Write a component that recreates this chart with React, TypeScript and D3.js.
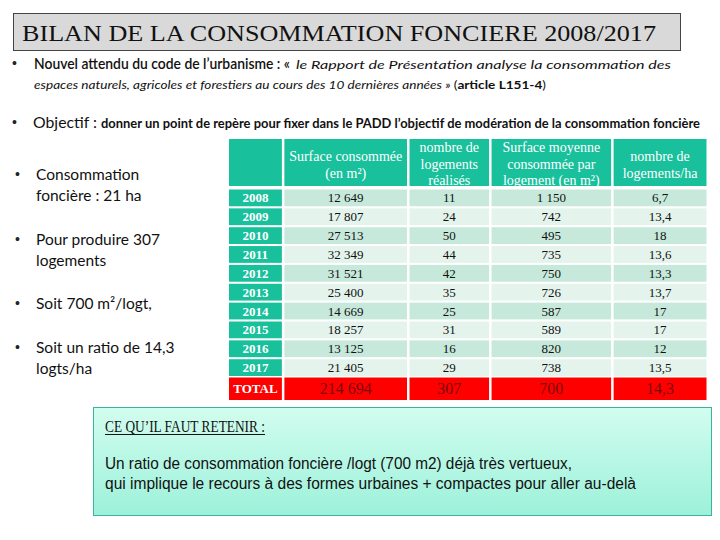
import React from "react";
import * as d3 from "d3";

const years = ["2008", "2009", "2010", "2011", "2012", "2013", "2014", "2015", "2016", "2017"];
const surface = ["12 649", "17 807", "27 513", "32 349", "31 521", "25 400", "14 669", "18 257", "13 125", "21 405"];
const logements = ["11", "24", "50", "44", "42", "35", "25", "31", "16", "29"];
const surfMoy = ["1 150", "742", "495", "735", "750", "726", "587", "589", "820", "738"];
const logHa = ["6,7", "13,4", "18", "13,6", "13,3", "13,7", "17", "17", "12", "13,5"];
const totals = ["214 694", "307", "700", "14,3"];
const headers: string[][] = [
  [],
  ["Surface consommée", "(en m²)"],
  ["nombre de", "logements", "réalisés"],
  ["Surface moyenne", "consommée par", "logement (en m²)"],
  ["nombre de", "logements/ha"],
];
const colWeights = [54, 122, 80, 119, 93];

const bullets = [
  ["Consommation", "foncière : 21 ha"],
  ["Pour produire 307", "logements"],
  ["Soit 700 m²/logt,"],
  ["Soit un ratio de 14,3", "logts/ha"],
];

export default function App() {
  const W = 720, H = 540;
  const tableX0 = 229, tableX1 = 709, gap = 2.5;
  const cum = [0];
  colWeights.forEach((w, i) => cum.push(cum[i] + w));
  const xs = d3.scaleLinear().domain([0, cum[cum.length - 1]]).range([tableX0, tableX1]);
  const cols = colWeights.map((_, i) => ({ x: xs(cum[i]), w: xs(cum[i + 1]) - xs(cum[i]) - gap }));

  const y = d3.scaleBand().domain(years).range([189.5, 376]).paddingInner(0.11);
  const totalY = 377.5, totalH = 22.5;

  const rowData = years.map((yr, i) => [yr, surface[i], logements[i], surfMoy[i], logHa[i]]);
  const serif = "'Liberation Serif', 'Times New Roman', serif";
  const sans = "Lato, 'Open Sans', sans-serif";
  const arial = "'Liberation Sans', Arial, sans-serif";

  const lineGap = 21, bulletGap = 43.5;
  const bulletStarts: number[] = [];
  bullets.forEach((b, i) => {
    if (i === 0) bulletStarts.push(180);
    else bulletStarts.push(bulletStarts[i - 1] + (bullets[i - 1].length - 1) * lineGap + bulletGap);
  });

  return (
    <div style={{ margin: -8 }}>
      <svg width={W} height={H} style={{ display: "block", background: "#fff" }}>
        <defs>
          <linearGradient id="retain" x1="0" y1="0" x2="0" y2="1">
            <stop offset="0%" stopColor="#d2fdef" />
            <stop offset="100%" stopColor="#9cf1da" />
          </linearGradient>
        </defs>
        {/* Title */}
        <rect x={13.5} y={13.5} width={667} height={37} fill="#d9d9d9" stroke="#444" strokeWidth={1} />
        <text x={22} y={41} fontFamily={serif} fontSize={23} fill="#111" textLength={634} lengthAdjust="spacingAndGlyphs">
          BILAN DE LA CONSOMMATION FONCIERE 2008/2017
        </text>

        {/* Bullet 1 */}
        <text x={12} y={68} fontFamily={arial} fontSize={14} fill="#222">•</text>
        <text x={34} y={69} fontFamily={sans} fontSize={15.5} fontWeight={600} fill="#111" textLength={256} lengthAdjust="spacingAndGlyphs">
          Nouvel attendu du code de l’urbanisme : «
        </text>
        <text x={296} y={69} fontFamily={sans} fontSize={12} fontStyle="italic" fill="#111" textLength={375} lengthAdjust="spacingAndGlyphs">
          le Rapport de Présentation analyse la consommation des
        </text>
        <text x={34} y={89} fontFamily={sans} fontSize={12} fill="#111" textLength={512} lengthAdjust="spacingAndGlyphs">
          <tspan fontStyle="italic">espaces naturels, agricoles et forestiers au cours des 10 dernières années » </tspan>
          <tspan>(</tspan>
          <tspan fontWeight={700}>article L151-4</tspan>
          <tspan>)</tspan>
        </text>

        {/* Objectif */}
        <text x={12} y={127} fontFamily={arial} fontSize={14} fill="#222">•</text>
        <text x={33} y={128} fontFamily={sans} fontSize={15.5} fill="#111" textLength={64} lengthAdjust="spacingAndGlyphs">
          Objectif :
        </text>
        <text x={101} y={128} fontFamily={sans} fontSize={12.5} fontWeight={700} fill="#111" textLength={599} lengthAdjust="spacingAndGlyphs">
          donner un point de repère pour fixer dans le PADD l’objectif de modération de la consommation foncière
        </text>

        {/* Left bullets */}
        {bullets.map((lines, i) => (
          <g key={i}>
            <text x={15} y={bulletStarts[i] - 1} fontFamily={arial} fontSize={14} fill="#222">•</text>
            {lines.map((l, j) => (
              <text key={j} x={36} y={bulletStarts[i] + j * lineGap} fontFamily={sans} fontSize={15.5} fill="#111">
                {l}
              </text>
            ))}
          </g>
        ))}

        {/* Table header */}
        {cols.map((c, i) => (
          <g key={"h" + i}>
            <rect x={c.x} y={139} width={c.w} height={47} fill="#19c09c" />
            <clipPath id={"hc" + i}>
              <rect x={c.x} y={139} width={c.w} height={47} />
            </clipPath>
            <g clipPath={`url(#hc${i})`}>
              {headers[i].map((t, j) => {
                const n = headers[i].length;
                const yy = n === 3 ? 152 + j * 16.5 : 161 + j * 16.5;
                return (
                  <text key={j} x={c.x + c.w / 2} y={yy} textAnchor="middle" fontFamily={serif} fontSize={14} fill="#fff">
                    {t}
                  </text>
                );
              })}
            </g>
          </g>
        ))}

        {/* Table rows */}
        {rowData.map((row, r) => {
          const yy = y(years[r])!;
          const h = y.bandwidth();
          const shade = r % 2 === 0 ? "#c7e9dc" : "#e4f4ed";
          return (
            <g key={"r" + r}>
              {cols.map((c, i) => (
                <g key={i}>
                  <rect x={c.x} y={yy} width={c.w} height={h} fill={i === 0 ? "#19c09c" : shade} />
                  <text
                    x={c.x + c.w / 2}
                    y={yy + h / 2 + 4.5}
                    textAnchor="middle"
                    fontFamily={serif}
                    fontSize={13}
                    fontWeight={i === 0 ? 700 : 400}
                    fill={i === 0 ? "#fff" : "#111"}
                  >
                    {row[i]}
                  </text>
                </g>
              ))}
            </g>
          );
        })}
        {/* Total row */}
        {cols.map((c, i) => (
          <g key={"t" + i}>
            <rect x={c.x} y={totalY} width={c.w} height={totalH} fill="#ff0000" />
            <text
              x={c.x + c.w / 2}
              y={totalY + totalH / 2 + (i === 0 ? 4.5 : 5.5)}
              textAnchor="middle"
              fontFamily={serif}
              fontSize={i === 0 ? 13 : 16}
              fontWeight={i === 0 ? 700 : 400}
              fill={i === 0 ? "#fff" : "#7a0a0a"}
            >
              {i === 0 ? "TOTAL" : totals[i - 1]}
            </text>
          </g>
        ))}

        {/* Retain box */}
        <rect x={93.5} y={407.5} width={618} height={108} fill="url(#retain)" stroke="#3cb39e" strokeWidth={1} />
        <text x={105} y={432} fontFamily={serif} fontSize={17} fill="#111" textLength={160} lengthAdjust="spacingAndGlyphs">
          CE QU’IL FAUT RETENIR :
        </text>
        <line x1={105} x2={265} y1={434.5} y2={434.5} stroke="#111" strokeWidth={1} />
        <text x={105} y={469} fontFamily={arial} fontSize={16} fill="#111" textLength={467} lengthAdjust="spacingAndGlyphs">
          Un ratio de consommation foncière /logt (700 m2) déjà très vertueux,
        </text>
        <text x={105} y={489} fontFamily={arial} fontSize={16} fill="#111" textLength={531} lengthAdjust="spacingAndGlyphs">
          qui implique le recours à des formes urbaines + compactes pour aller au-delà
        </text>
      </svg>
    </div>
  );
}
